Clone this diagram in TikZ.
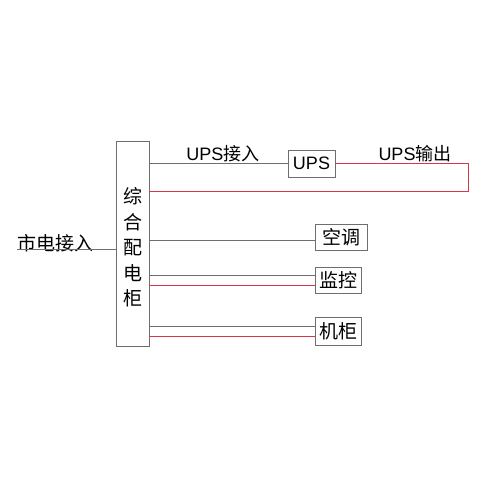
\documentclass[tikz,border=0pt]{standalone}
\usepackage{fontspec}
\setmainfont{Liberation Sans}
\newfontfamily\cjk{Noto Sans CJK SC}
\usetikzlibrary{positioning}
\definecolor{wiregray}{RGB}{110,110,110}
\definecolor{wirered}{RGB}{215,55,70}
\tikzset{basic/.style={draw=wiregray,line width=0.7pt,fill=white,inner sep=0pt}}
\tikzset{panel/.style={basic,minimum width=33pt,minimum height=205pt}}
\tikzset{device/.style={basic,minimum height=26pt,font=\cjk\fontsize{19}{19}\selectfont}}
\tikzset{label/.style={inner sep=0pt,font=\fontsize{18}{18}\selectfont}}
\tikzset{wire/.style={draw=wiregray,line width=0.8pt}}
\tikzset{live/.style={draw=wirered,line width=1pt}}

\begin{document}
\begin{tikzpicture}[x=1pt,y=-1pt]
    \useasboundingbox (0,0) rectangle (500,500);
    \node[panel] (pdg) at (132.5,243.5) {};
    \node[label,align=center,font=\cjk\fontsize{19}{25.5}\selectfont] (pdgname) at ([yshift=-4pt]pdg.center) {综\\合\\配\\电\\柜};

    \node[basic,minimum width=47pt,minimum height=27pt,font=\fontsize{18}{18}\selectfont] (ups) at (311.5,163.5) {UPS};
    \node[device,minimum width=52pt] (ac) at (341,237.5) {空调};
    \node[device,minimum width=46pt] (cctv) at (338,280) {监控};
    \node[device,minimum width=46pt,minimum height=28pt] (rack) at (338,331) {机柜};

    \node[label] (upsin) at (223,154) {UPS{\cjk 接入}};
    \node[label] (upsout) at (415,154) {UPS{\cjk 输出}};

    \coordinate (mains) at (17,249);
    \coordinate (turn) at (468,191.5);
    \node[label,font=\cjk\fontsize{19}{19}\selectfont,anchor=south west] (mainsin) at ([yshift=-3pt]mains) {市电接入};

        \path[wire] (mains) -- (mains -| pdg.west);
        \path[wire] (ups.west) -- (ups.west -| pdg.east);
        \path[live] (ups.east) -| (turn) -- (turn -| pdg.east);
        \path[wire] ([yshift=-2.5pt]ac.west) -- ([yshift=-2.5pt]ac.west -| pdg.east);
        \path[wire] ([yshift=5pt]cctv.west) -- ([yshift=5pt]cctv.west -| pdg.east);
        \path[live] ([yshift=-5.5pt]cctv.west) -- ([yshift=-5.5pt]cctv.west -| pdg.east);
        \path[wire] ([yshift=5pt]rack.west) -- ([yshift=5pt]rack.west -| pdg.east);
        \path[live] ([yshift=-5.5pt]rack.west) -- ([yshift=-5.5pt]rack.west -| pdg.east);
  \end{tikzpicture}
\end{document}
